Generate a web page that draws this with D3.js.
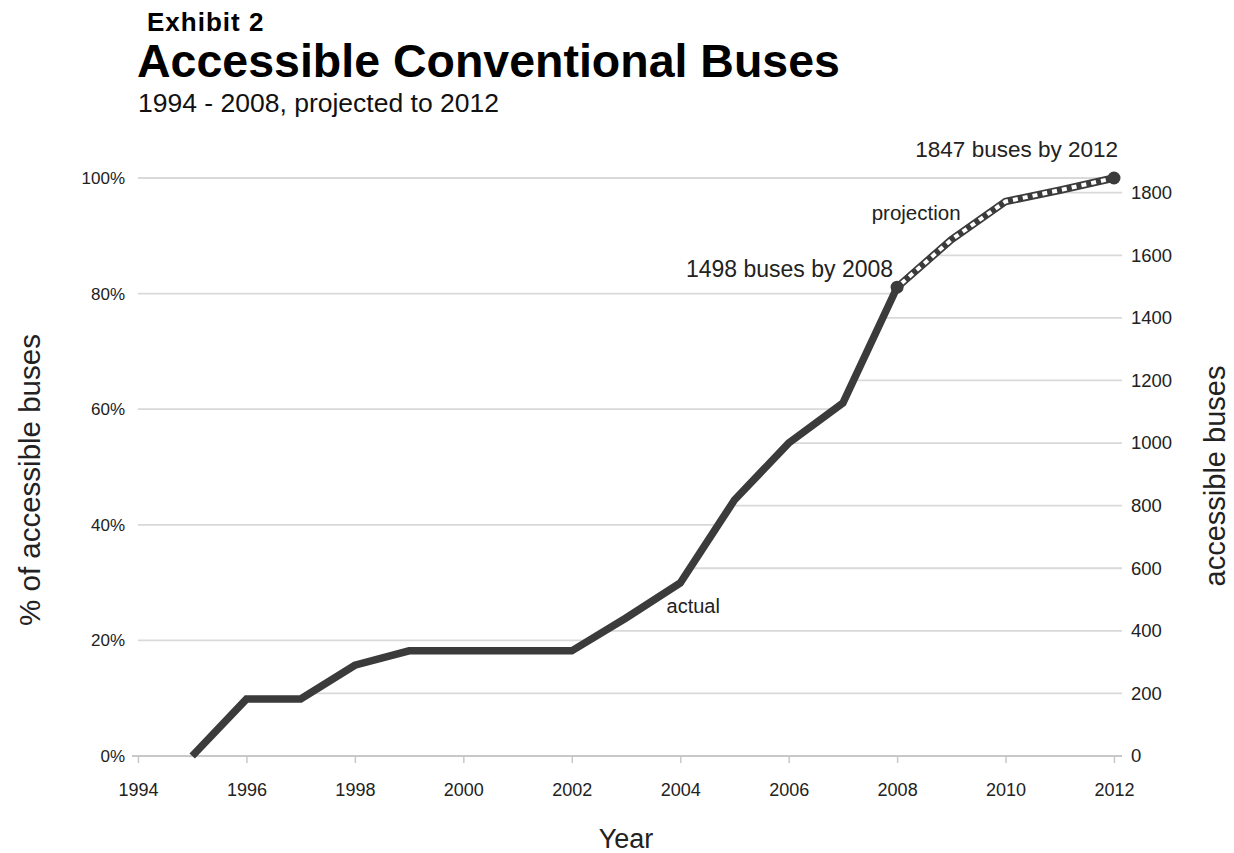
<!DOCTYPE html>
<html>
<head>
<meta charset="utf-8">
<title>Accessible Conventional Buses</title>
<script src="https://cdn.jsdelivr.net/npm/d3@7"></script>
<style>
body { margin: 0; background: #fff; }
svg { font-family: "Liberation Sans", Arial, Helvetica, sans-serif; }
.tick text { fill: #222; }
</style>
</head>
<body>
<svg id="chart" width="1234" height="853"></svg>
<script>
// data
const actualYears = [1995, 1996, 1997, 1998, 1999, 2000, 2001, 2002, 2003, 2004, 2005, 2006, 2007, 2008];
const actualBuses = [0, 182, 182, 290, 336, 336, 336, 336, 441, 553, 818, 1000, 1128, 1498];
const projYears = [2008, 2009, 2010, 2011, 2012];
const projBuses = [1498, 1650, 1772, 1808, 1847];
const totalBuses = 1847;
const yearTicks = [1994, 1996, 1998, 2000, 2002, 2004, 2006, 2008, 2010, 2012];
const pctTicks = [0, 0.2, 0.4, 0.6, 0.8, 1];
const busTicks = [0, 200, 400, 600, 800, 1000, 1200, 1400, 1600, 1800];

const margin = {left: 138, top: 178};
const width = 976;
const height = 578;
const lineColor = "#3b3b3b";
const gridColor = "#d9d9d9";

const svg = d3.select("#chart");
const g = svg.append("g").attr("transform", "translate(" + margin.left + "," + margin.top + ")");

const x = d3.scaleLinear().domain([1994, 2012]).range([0, width]);
const yBus = d3.scaleLinear().domain([0, totalBuses]).range([height, 0]);
const yPct = d3.scaleLinear().domain([0, 1]).range([height, 0]);

// whole series, used to find where a grid line meets the curve
const allYears = actualYears.concat(projYears.slice(1));
const allBuses = actualBuses.concat(projBuses.slice(1));
function crossX(v) {
    for (let i = 0; i < allBuses.length - 1; i++) {
        const a = allBuses[i], b = allBuses[i + 1];
        if (b > a && v >= a && v <= b) {
            return x(allYears[i] + (v - a) / (b - a));
        }
    }
    return width;
}

// left grid lines: from the axis to the curve
pctTicks.filter(p => p > 0).forEach(function(p) {
    g.append("line")
    .attr("x1", 0).attr("x2", crossX(p * totalBuses))
    .attr("y1", yPct(p)).attr("y2", yPct(p))
    .attr("stroke", gridColor).attr("stroke-width", 1.8);
});
// right grid lines: from the curve to the right axis
busTicks.filter(b => b > 0).forEach(function(b) {
    g.append("line")
    .attr("x1", crossX(b)).attr("x2", width + 8)
    .attr("y1", yBus(b)).attr("y2", yBus(b))
    .attr("stroke", gridColor).attr("stroke-width", 1.8);
});
// baseline
g.append("line")
.attr("x1", -6).attr("x2", width + 8)
.attr("y1", height).attr("y2", height)
.attr("stroke", "#c8c8c8").attr("stroke-width", 1.8);

// axes
const xAxis = g.append("g")
.attr("transform", "translate(0," + height + ")")
.call(d3.axisBottom(x).tickValues(yearTicks).tickFormat(d3.format("d")).tickSize(7).tickPadding(20));
xAxis.select(".domain").remove();
xAxis.selectAll("line").attr("stroke", "#c8c8c8").attr("stroke-width", 1.5);
xAxis.selectAll("text").style("font-size", "18px");

const leftAxis = g.append("g")
.call(d3.axisLeft(yPct).tickValues(pctTicks).tickFormat(d3.format(".0%")).tickSize(0).tickPadding(13));
leftAxis.select(".domain").remove();
leftAxis.selectAll("text").style("font-size", "17px");

const rightAxis = g.append("g")
.attr("transform", "translate(" + width + ",0)")
.call(d3.axisRight(yBus).tickValues(busTicks).tickFormat(d3.format("d")).tickSize(0).tickPadding(17));
rightAxis.select(".domain").remove();
rightAxis.selectAll("text").style("font-size", "18.5px");

// actual line
const line = d3.line().x(d => x(d[0])).y(d => yBus(d[1]));
g.append("path")
.datum(d3.zip(actualYears, actualBuses))
.attr("d", line)
.attr("fill", "none")
.attr("stroke", lineColor)
.attr("stroke-width", 7.5)
.attr("stroke-linejoin", "miter");

// projection: dark line with white dashes on top
const projData = d3.zip(projYears, projBuses);
g.append("path")
.datum(projData)
.attr("d", line)
.attr("fill", "none")
.attr("stroke", lineColor)
.attr("stroke-width", 7.5);
g.append("path")
.datum(projData)
.attr("d", line)
.attr("fill", "none")
.attr("stroke", "#fff")
.attr("stroke-width", 4)
.style("stroke-dasharray", "5,5")
.style("stroke-dashoffset", -6);

// end points
[[2008, 1498], [2012, 1847]].forEach(function(d) {
    g.append("circle")
    .attr("cx", x(d[0])).attr("cy", yBus(d[1]))
    .attr("r", 6.5).attr("fill", lineColor);
});

// annotations
g.append("text")
.attr("x", x(2012) + 4).attr("y", yBus(1847) - 21)
.attr("text-anchor", "end")
.style("font-size", "22.5px").attr("fill", "#222")
.text("1847 buses by " + 2012);
g.append("text")
.attr("x", x(2008) - 4).attr("y", yBus(1498) - 10)
.attr("text-anchor", "end")
.style("font-size", "23px").attr("fill", "#222")
.text("1498 buses by " + 2008);
g.append("text")
.attr("x", x(2008) + 19).attr("y", 42)
.attr("text-anchor", "middle")
.style("font-size", "20.5px").attr("fill", "#222")
.text("projection");
g.append("text")
.attr("x", x(2004) + 13).attr("y", 435)
.attr("text-anchor", "middle")
.style("font-size", "20px").attr("fill", "#222")
.text("actual");

// axis titles
svg.append("text")
.attr("transform", "translate(40,480) rotate(-90)")
.attr("text-anchor", "middle")
.style("font-size", "29.5px").attr("fill", "#222")
.text("% of accessible buses");
svg.append("text")
.attr("transform", "translate(1225,476) rotate(-90)")
.attr("text-anchor", "middle")
.style("font-size", "29px").attr("fill", "#222")
.text("accessible buses");
svg.append("text")
.attr("x", margin.left + width / 2).attr("y", 848)
.attr("text-anchor", "middle")
.style("font-size", "27px").attr("fill", "#222")
.text("Year");

// titles
svg.append("text")
.attr("x", 147).attr("y", 31)
.style("font-size", "26px").style("font-weight", "bold")
.style("letter-spacing", "1px")
.text("Exhibit 2");
svg.append("text")
.attr("x", 137).attr("y", 77)
.style("font-size", "46.5px").style("font-weight", "bold")
.text("Accessible Conventional Buses");
svg.append("text")
.attr("x", 138).attr("y", 112)
.style("font-size", "26.5px").attr("fill", "#111")
.text("1994 - 2008, projected to 2012");
</script>
</body>
</html>
